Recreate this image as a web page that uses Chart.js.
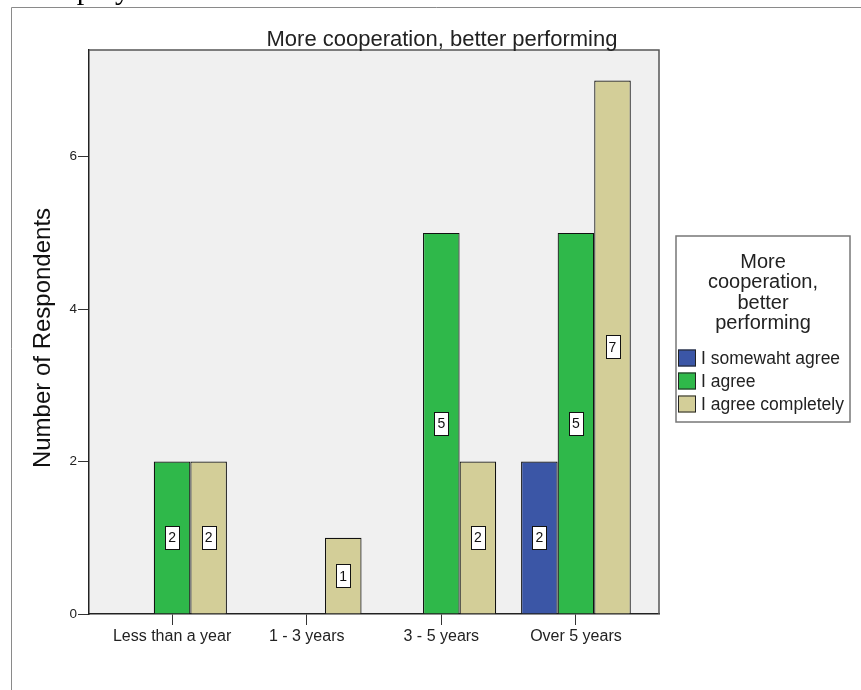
<!DOCTYPE html>
<html>
<head>
<meta charset="utf-8">
<script src="https://cdn.jsdelivr.net/npm/chart.js@4.4.1/dist/chart.umd.min.js"></script>
<style>
  body { margin: 0; background: #fff; }
  canvas { display: block; }
</style>
</head>
<body>
<canvas id="chart" width="861" height="690"></canvas>
<script>
// data
const categories = ['Less than a year', '1 - 3 years', '3 - 5 years', 'Over 5 years'];
const somewhatAgree = [null, null, null, 2];
const agree = [2, null, 5, 5];
const agreeCompletely = [2, 1, 2, 7];
const seriesNames = ['I somewaht agree', 'I agree', 'I agree completely'];
const yTicks = [0, 2, 4, 6];

const FONT = '"Liberation Sans", Arial, sans-serif';
Chart.defaults.font.family = FONT;
Chart.defaults.color = '#222';

// grey plot background, frame, outer page line, titles
const framePlugin = {
    id: 'frame',
    beforeDraw(chart) {
        const ctx = chart.ctx;
        const a = chart.chartArea;
        ctx.save();
        // bit of the document text above the figure
        ctx.fillStyle = '#000';
        ctx.font = '30px "Liberation Serif", "Times New Roman", serif';
        ctx.textBaseline = 'alphabetic';
        ctx.fillText('employment.', 40, -1);
        // outer page frame
        ctx.strokeStyle = '#8a8a8a';
        ctx.lineWidth = 1;
        ctx.beginPath();
        ctx.moveTo(11.5, 690);
        ctx.lineTo(11.5, 7.5);
        ctx.lineTo(861, 7.5);
        ctx.stroke();
        // plot background
        ctx.fillStyle = '#f0f0f0';
        ctx.fillRect(a.left, a.top, a.right - a.left, a.bottom - a.top);
        ctx.restore();
    },
    afterDraw(chart) {
        const ctx = chart.ctx;
        const a = chart.chartArea;
        ctx.save();
        ctx.strokeStyle = '#555';
        ctx.lineWidth = 1.5;
        ctx.beginPath();
        ctx.moveTo(a.left, a.top);
        ctx.lineTo(a.right, a.top);
        ctx.lineTo(a.right, a.bottom);
        ctx.stroke();

        // chart title
        ctx.fillStyle = '#222';
        ctx.font = '22px ' + FONT;
        ctx.textAlign = 'center';
        ctx.textBaseline = 'alphabetic';
        ctx.fillText('More cooperation, better performing', 442, 46);

        // y axis title
        ctx.translate(43, 338);
        ctx.rotate(-Math.PI / 2);
        ctx.font = '24px ' + FONT;
        ctx.textBaseline = 'middle';
        ctx.fillStyle = '#111';
        ctx.fillText('Number of Respondents', 0, 0);
        ctx.restore();

        // legend box
        ctx.save();
        ctx.strokeStyle = '#777';
        ctx.lineWidth = 1.5;
        ctx.fillStyle = '#fff';
        ctx.fillRect(676, 236, 174, 186);
        ctx.strokeRect(676, 236, 174, 186);
        ctx.fillStyle = '#222';
        ctx.font = '20px ' + FONT;
        ctx.textAlign = 'center';
        ctx.textBaseline = 'middle';
        ['More', 'cooperation,', 'better', 'performing'].forEach((t, i) => {
            ctx.fillText(t, 763, 262 + i * 20.5);
        });
        ctx.font = '17.5px ' + FONT;
        ctx.textAlign = 'left';
        chart.data.datasets.forEach((ds, i) => {
            const y = 358 + i * 23;
            ctx.fillStyle = ds.backgroundColor;
            ctx.fillRect(678, y - 8.5, 18, 17);
            ctx.strokeStyle = '#222';
            ctx.lineWidth = 1;
            ctx.strokeRect(678.5, y - 8, 17, 16);
            ctx.fillStyle = '#222';
            ctx.fillText(ds.label, 701, y + 1);
        });
        ctx.restore();
    },
    afterDatasetsDraw(chart) {
        // value labels in white boxes, middle of each bar
        const ctx = chart.ctx;
        ctx.save();
        ctx.font = '14px ' + FONT;
        ctx.textAlign = 'center';
        ctx.textBaseline = 'middle';
        chart.data.datasets.forEach((ds, di) => {
            const meta = chart.getDatasetMeta(di);
            meta.data.forEach((bar, i) => {
                const v = ds.data[i];
                if (v == null) return;
                const cy = (bar.y + bar.base) / 2;
                const w = 14, h = 23;
                ctx.fillStyle = '#fff';
                ctx.fillRect(Math.round(bar.x - w / 2) + 0.5, Math.round(cy - h / 2) + 0.5, w, h);
                ctx.strokeStyle = '#111';
                ctx.lineWidth = 1;
                ctx.strokeRect(Math.round(bar.x - w / 2) + 0.5, Math.round(cy - h / 2) + 0.5, w, h);
                ctx.fillStyle = '#111';
                ctx.fillText(String(v), bar.x, cy + 1);
            });
        });
        ctx.restore();
    }
};

const ctx = document.getElementById('chart').getContext('2d');
const chart = new Chart(ctx, {
    type: 'bar',
    data: {
        labels: categories.map((c, i) => i),
        datasets: [
            { label: seriesNames[0], data: somewhatAgree, backgroundColor: '#3b56a6' },
            { label: seriesNames[1], data: agree, backgroundColor: '#2fb84a' },
            { label: seriesNames[2], data: agreeCompletely, backgroundColor: '#d3ce98' }
        ]
    },
    options: {
        responsive: false,
        animation: false,
        layout: { padding: { top: 50, right: 202, bottom: 0, left: 0 } },
        datasets: {
            bar: {
                borderColor: '#111',
                borderWidth: 1.2,
                borderSkipped: 'bottom',
                categoryPercentage: 0.815,
                barPercentage: 1
            }
        },
        plugins: {
            legend: { display: false },
            title: { display: false },
            tooltip: { enabled: false }
        },
        scales: {
            x: {
                type: 'linear',
                offset: false,
                min: -0.617,
                max: 3.617,
                afterFit: (scale) => { scale.height = 76; },
                grid: { offset: false, drawOnChartArea: false, drawTicks: true, tickLength: 11, color: '#333' },
                border: { display: true, color: '#222', width: 1.5 },
                ticks: {
                    stepSize: 1,
                    includeBounds: false,
                    autoSkip: false,
                    maxRotation: 0,
                    padding: 2,
                    color: '#222',
                    font: { size: 16 },
                    callback: (v) => categories[v]
                }
            },
            y: {
                min: 0,
                max: 7.4,
                afterFit: (scale) => { scale.width = 89; },
                afterBuildTicks: (scale) => { scale.ticks = yTicks.map(v => ({ value: v })); },
                grid: { drawOnChartArea: false, drawTicks: true, tickLength: 11, color: '#333' },
                border: { display: true, color: '#222', width: 1.5 },
                ticks: {
                    stepSize: 2,
                    includeBounds: false,
                    padding: 1,
                    color: '#222',
                    font: { size: 13.5 }
                }
            }
        }
    },
    plugins: [framePlugin]
});
</script>
</body>
</html>
